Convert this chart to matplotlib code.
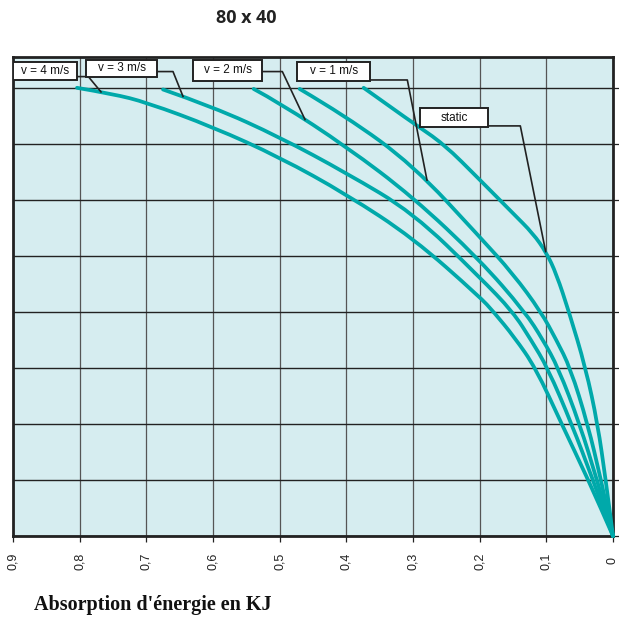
import numpy as np
import matplotlib.pyplot as plt
from matplotlib.patches import Rectangle, PathPatch
from matplotlib.path import Path

# energy absorption (kJ) vs force level
names = ["v = 4 m/s", "v = 3 m/s", "v = 2 m/s", "v = 1 m/s", "static"]

x_v4 = [0.804, 0.75, 0.70, 0.60, 0.50, 0.40, 0.30, 0.20, 0.179, 0.148, 0.116, 0.077, 0.037, 0]
y_v4 = [8.00, 7.89, 7.74, 7.30, 6.76, 6.10, 5.32, 4.27, 4.00, 3.55, 3.00, 2.00, 1.00, 0]

x_v3 = [0.675, 0.60, 0.50, 0.40, 0.30, 0.20, 0.150, 0.123, 0.098, 0.062, 0.030, 0]
y_v3 = [7.97, 7.66, 7.12, 6.48, 5.77, 4.62, 4.00, 3.50, 3.00, 2.00, 1.00, 0]

x_v2 = [0.539, 0.50, 0.40, 0.30, 0.20, 0.132, 0.105, 0.082, 0.050, 0.024, 0]
y_v2 = [7.98, 7.73, 6.95, 6.05, 4.93, 4.00, 3.50, 3.00, 2.00, 1.00, 0]

x_v1 = [0.470, 0.40, 0.30, 0.20, 0.150, 0.108, 0.085, 0.064, 0.038, 0.018, 0]
y_v1 = [7.98, 7.49, 6.62, 5.34, 4.68, 4.00, 3.50, 3.00, 2.00, 1.00, 0]

x_st = [0.374, 0.30, 0.254, 0.20, 0.150, 0.120, 0.100, 0.085, 0.066, 0.041, 0.023, 0.011, 0]
y_st = [8.00, 7.37, 7.00, 6.36, 5.76, 5.40, 5.06, 4.68, 4.00, 3.00, 2.00, 1.00, 0]

curves = [(x_v4, y_v4), (x_v3, y_v3), (x_v2, y_v2), (x_v1, y_v1), (x_st, y_st)]

tick_vals = [0.9, 0.8, 0.7, 0.6, 0.5, 0.4, 0.3, 0.2, 0.1, 0]
tick_labels = ["0,9", "0,8", "0,7", "0,6", "0,5", "0,4", "0,3", "0,2", "0,1", "0"]
y_grid = [0, 1, 2, 3, 4, 5, 6, 7, 8]

# label boxes: (x left, x right, y bottom, y top), leader start y, kink x, target x on curve
boxes = [(0.900, 0.804, 8.14, 8.46), (0.790, 0.684, 8.20, 8.50), (0.630, 0.526, 8.13, 8.50),
         (0.474, 0.364, 8.13, 8.46), (0.289, 0.187, 7.30, 7.64)]
leaders = [(8.20, 0.787, 0.768), (8.29, 0.660, 0.645), (8.29, 0.496, 0.462),
           (8.14, 0.3085, 0.279), (7.32, 0.139, 0.101)]

teal = "#00a9aa"
dark = "#222222"


def smooth(xs, ys):
    # quadratic bezier through the midpoints, so the read points give a smooth stroke
    p = np.column_stack([xs, ys])
    verts = [p[0]]
    codes = [Path.MOVETO]
    for i in range(1, len(p) - 1):
        verts += [p[i], (p[i] + p[i + 1]) / 2]
        codes += [Path.CURVE3, Path.CURVE3]
    verts.append(p[-1])
    codes.append(Path.LINETO)
    return Path(verts, codes)


fig = plt.figure(figsize=(6.19, 6.26), dpi=100)
ax = fig.add_axes([13 / 619, 90 / 626, 600 / 619, 479 / 626])
ax.set_facecolor("#d6edf0")

for xs, ys in curves:
    ax.add_patch(PathPatch(smooth(xs, ys), facecolor="none", edgecolor=teal, lw=2.7,
                           capstyle="round", joinstyle="round", zorder=3, clip_on=False))

for (xl, xr, yb, yt), (ys, xk, xt), name, (cx, cy) in zip(boxes, leaders, names, curves):
    yt_curve = np.interp(xt, cx[::-1], cy[::-1])
    ax.plot([xr, xk, xt], [ys, ys, yt_curve], color=dark, lw=1.2, zorder=4)
    ax.add_patch(Rectangle((xl, yb), xr - xl, yt - yb, facecolor="white",
                           edgecolor=dark, lw=1.4, zorder=5))
    ax.text((xl + xr) / 2, (yb + yt) / 2, name, ha="center", va="center",
            fontsize=8.5, family="Liberation Sans", color="#111", zorder=6)

ax.set_xlim(0.9, 0)
ax.set_ylim(0, 8.55)
ax.set_xticks(tick_vals)
ax.set_xticklabels(tick_labels, rotation=90, fontsize=9, family="Liberation Sans", color="#222")
for lab in ax.get_xticklabels():
    lab.set_va("center")
ax.tick_params(axis="x", length=4, width=0.9, color=dark, pad=14)

ax.set_yticks(y_grid)
ax.yaxis.tick_right()
ax.tick_params(axis="y", length=4, width=0.9, color=dark, labelright=False)

ax.xaxis.grid(True, color="#555555", lw=0.9)
ax.yaxis.grid(True, color=dark, lw=1.0)
ax.set_axisbelow(True)

for sp in ax.spines.values():
    sp.set_linewidth(2.0)
    sp.set_color(dark)

fig.text(246 / 619, 1 - 18 / 626, "80 x 40", ha="center", va="center",
         fontsize=13, weight="bold", family="Open Sans", color="#222")
fig.text(34 / 619, 1 - 605 / 626, "Absorption d'énergie en KJ", ha="left", va="center",
         fontsize=14.5, weight="bold", family="Liberation Serif", color="#111")

fig.savefig("out.png", dpi=100)
